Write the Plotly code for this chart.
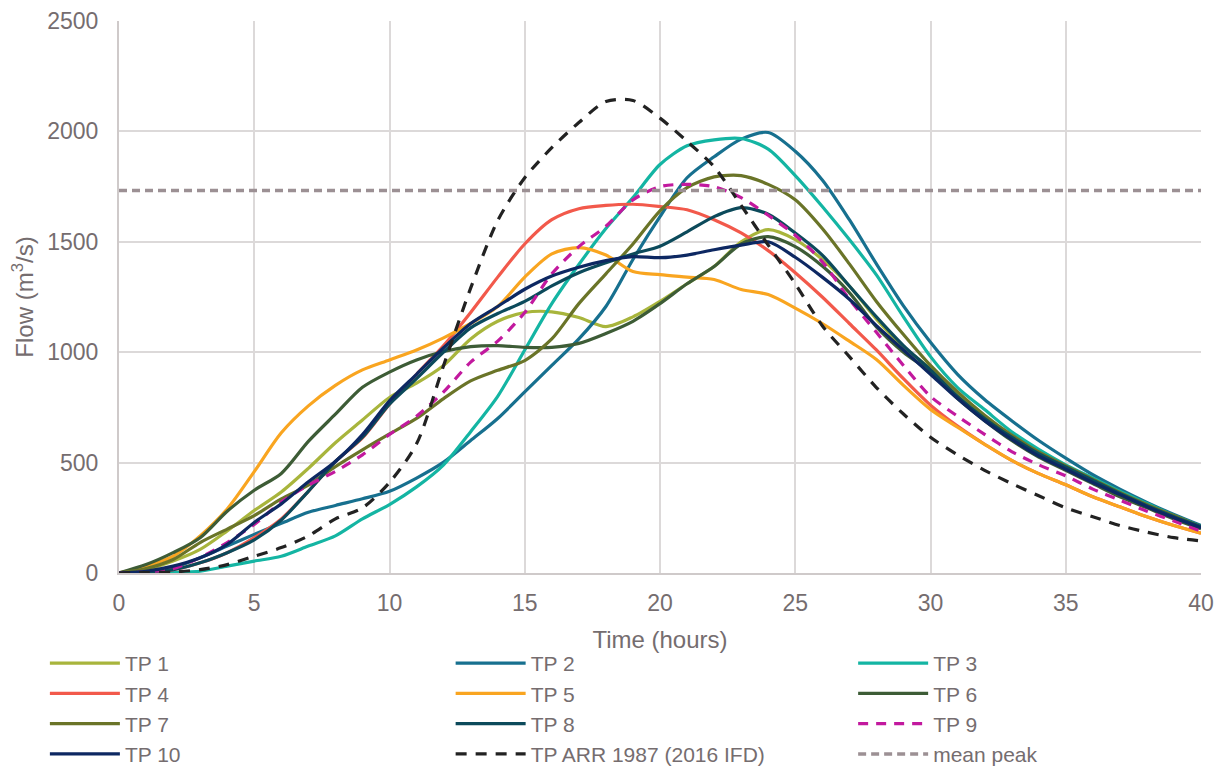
import plotly.graph_objects as go

hours = list(range(41))

tp1 = [0,15,54,107,191,283,367,474,590,693,795,860,940,1060,1140,1180,1183,1157,1116,1160,1230,1310,1388,1500,1555,1510,1420,1300,1150,1025,925,805,700,610,535,470,410,350,300,250,205]
tp2 = [0,5,23,69,122,175,225,275,306,336,370,430,502,600,700,820,940,1060,1207,1420,1614,1790,1885,1965,1995,1910,1780,1600,1400,1210,1045,900,786,690,600,520,445,380,320,265,215]
tp3 = [0,2,3,8,31,54,76,122,168,245,310,390,490,640,800,1010,1220,1397,1560,1700,1850,1935,1962,1968,1920,1800,1660,1510,1350,1160,980,840,740,640,560,490,430,370,315,260,210]
tp4 = [0,5,15,46,92,160,245,370,505,612,765,900,1030,1180,1340,1490,1600,1650,1665,1670,1660,1645,1600,1540,1460,1360,1250,1130,1010,880,760,665,583,510,450,400,345,300,255,215,180]
tp5 = [0,31,76,168,290,459,635,757,850,920,965,1010,1065,1130,1207,1340,1445,1474,1440,1365,1351,1340,1329,1284,1261,1200,1130,1050,967,850,741,660,583,510,450,400,345,300,255,215,180]
tp6 = [0,38,92,160,280,375,451,596,719,841,910,965,1003,1025,1030,1022,1022,1040,1085,1140,1220,1310,1388,1490,1523,1478,1390,1270,1115,1000,910,790,690,600,525,465,405,345,295,245,200]
tp7 = [0,20,61,138,199,260,336,398,482,558,630,700,790,870,918,962,1060,1220,1355,1490,1640,1745,1794,1800,1760,1690,1560,1400,1230,1080,940,820,715,625,548,485,425,365,310,260,210]
tp8 = [0,5,15,46,92,150,240,370,505,615,765,880,1000,1110,1175,1230,1300,1360,1405,1445,1480,1545,1614,1655,1625,1540,1440,1300,1160,1030,920,800,700,615,540,480,420,360,305,255,210]
tp9 = [0,5,20,70,138,220,321,398,460,535,627,710,820,955,1050,1180,1355,1478,1570,1690,1750,1760,1749,1700,1620,1530,1410,1240,1090,940,800,710,628,550,490,440,380,330,280,235,190]
tp10 = [0,8,31,69,130,229,313,413,505,627,780,900,1020,1130,1207,1285,1345,1385,1415,1433,1428,1440,1464,1485,1500,1430,1340,1240,1120,1010,900,790,690,605,530,470,410,355,300,250,205]
arr1987 = [0,2,5,15,38,76,115,168,245,295,410,585,940,1290,1596,1790,1926,2040,2135,2140,2060,1955,1840,1665,1485,1310,1120,980,840,720,615,535,465,405,350,295,255,215,185,160,145]
mean_peak = 1732
mean_x = [0, 40]

series = [
    ("TP 1", tp1, "#a8b53c", "solid", "legend"),
    ("TP 2", tp2, "#17708f", "solid", "legend2"),
    ("TP 3", tp3, "#14b5a3", "solid", "legend3"),
    ("TP 4", tp4, "#f2594b", "solid", "legend"),
    ("TP 5", tp5, "#f9a520", "solid", "legend2"),
    ("TP 6", tp6, "#3d5c36", "solid", "legend3"),
    ("TP 7", tp7, "#6a7428", "solid", "legend"),
    ("TP 8", tp8, "#0c4a5b", "solid", "legend2"),
    ("TP 9", tp9, "#c2199e", "10px,8px", "legend3"),
    ("TP 10", tp10, "#0d2862", "solid", "legend"),
    ("TP ARR 1987 (2016 IFD)", arr1987, "#222222", "11px,9px", "legend2"),
]

fig = go.Figure()
for name, vals, color, dash, leg in series:
    fig.add_trace(go.Scatter(
        x=hours, y=vals, name=name, mode="lines",
        line=dict(color=color, width=3.2, dash=dash, shape="spline", smoothing=0.8),
        legend=leg,
    ))
fig.add_trace(go.Scatter(
    x=mean_x, y=[mean_peak, mean_peak], name="mean peak", mode="lines",
    line=dict(color="#9c9094", width=3.5, dash="8px,5px"),
    legend="legend3",
))

txt = "#756d6f"
font = "Liberation Sans, Arial, sans-serif"
legcommon = dict(orientation="v", yanchor="top", xanchor="left", y=-0.1266,
                 font=dict(family=font, size=21, color=txt),
                 bgcolor="rgba(0,0,0,0)", itemwidth=70, tracegroupgap=0)

fig.update_layout(
    width=1209, height=759,
    margin=dict(l=111, r=16, t=13, b=194, autoexpand=False),
    paper_bgcolor="white", plot_bgcolor="white",
    font=dict(family=font, color=txt),
    showlegend=True,
    hovermode=False,
    legend=dict(x=-0.0685, **legcommon),
    legend2=dict(x=0.3065, **legcommon),
    legend3=dict(x=0.6785, **legcommon),
    xaxis=dict(
        range=[0, 40], tickvals=[0, 5, 10, 15, 20, 25, 30, 35, 40],
        showgrid=True, gridcolor="#dcd9d9", gridwidth=1.5,
        zeroline=False, showline=True, linecolor="#cfcaca", linewidth=2,
        ticks="", tickfont=dict(size=23, color=txt), ticklabelstandoff=8,
        title=dict(text="Time (hours)", font=dict(size=24, color=txt), standoff=17),
    ),
    yaxis=dict(
        range=[0, 2500], tickvals=[0, 500, 1000, 1500, 2000, 2500],
        showgrid=True, gridcolor="#dcd9d9", gridwidth=1.5,
        zeroline=False, showline=True, linecolor="#cfcaca", linewidth=2,
        ticks="", tickfont=dict(size=23, color=txt), ticklabelstandoff=14,
        title=dict(text="Flow (m<sup>3</sup>/s)", font=dict(size=24, color=txt), standoff=9),
    ),
)

fig.write_html("out.html")
